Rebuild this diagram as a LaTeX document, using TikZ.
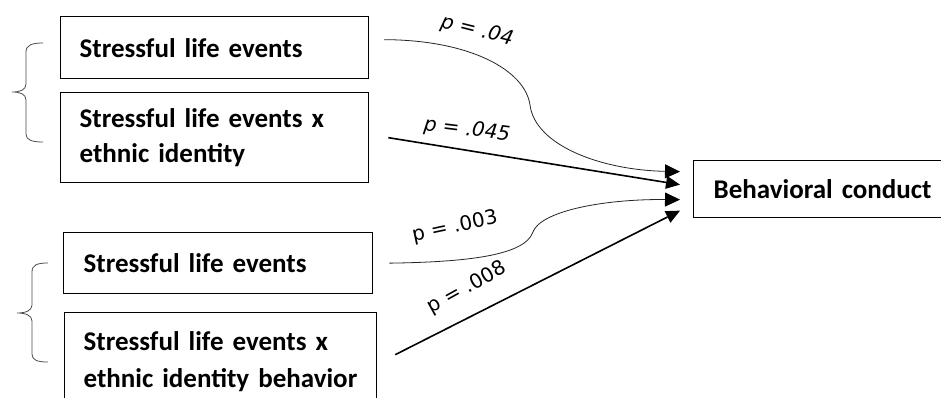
\documentclass[tikz,border=0pt]{standalone}
\usepackage{fontspec}
\setmainfont{Carlito}
\newfontfamily\plabelfont{DejaVu Sans}
\usetikzlibrary{arrows.meta,calc}
\begin{document}
\begin{tikzpicture}[x=1pt,y=-1pt,
  box/.style={draw=black,line width=1.3pt,rectangle,anchor=north west,
    inner xsep=19pt,inner ysep=0pt,align=left,
    font=\fontsize{27}{35}\selectfont\bfseries},
  thinarrow/.style={draw=black!85,line width=0.8pt,-{Triangle[length=15pt,width=14pt,color=black,fill=black]}},
  thickarrow/.style={draw=black,line width=1.6pt,-{Triangle[length=14pt,width=13pt,line width=0pt,fill=black]}},
  plab/.style={font=\plabelfont\fontsize{20}{24}\selectfont,inner sep=0pt},
  bracestyle/.style={draw=black!70,line width=0.8pt}]
\useasboundingbox (0,0) rectangle (941,398);
\clip (0,0) rectangle (941,398);
\fill[white] (0,0) rectangle (941,398);
% boxes
\node[box,text width=270pt,minimum height=62pt] (b1) at (60,16) {\mbox{Stressful life events}};
\node[box,text width=270pt,minimum height=90pt] (b2) at (60,92) {\mbox{Stressful life events x}\\\mbox{ethnic identity}};
\node[box,inner xsep=20pt,text width=269pt,minimum height=61pt] (b3) at (63,232) {\mbox{Stressful life events}};
\node[box,inner xsep=19pt,text width=274pt,minimum height=98pt,font=\fontsize{27}{37}\selectfont\bfseries] (b4) at (64,312) {\mbox{Stressful life events x}\\\mbox{ethnic identity behavior}};
\node[box,inner xsep=20pt,text width=240pt,minimum height=57pt] (bc) at (693,160) {\mbox{Behavioral conduct}};
% connector ends
\coordinate (s1) at ($(b1.east)+(15,-8)$);
\coordinate (s2) at ($(b2.east)+(19,0)$);
\coordinate (s3) at ($(b3.east)+(16,0)$);
\coordinate (s4) at ($(b4.east)+(18,-7)$);
\coordinate (t1) at ($(bc.west)+(-13,-17.5)$);
\coordinate (t2) at ($(bc.west)+(-13,-4.5)$);
\coordinate (t3) at ($(bc.west)+(-13,10.5)$);
\coordinate (t4) at ($(bc.west)+(-13,21.5)$);
% connectors
\draw[thinarrow] (s1) .. controls (470,40) and (525,70) .. (530,105) .. controls (535,145) and (600,170) .. (t1);
\draw[thickarrow] (s2) -- (t2);
\draw[thinarrow] (s3) .. controls (470,262) and (525,255) .. (533,232) .. controls (540,212) and (600,199) .. (t3);
\draw[thickarrow] (s4) -- (t4);
% labels
\node[plab,rotate=-14] (l1) at (477,31) {\itshape p = .04};
\node[plab,rotate=-7] (l2) at (467,130) {\itshape p = .045};
\node[plab,rotate=12] (l3) at (455,227) {p = .003};
\node[plab,rotate=29] (l4) at (467,288) {p = .008};
% braces
\draw[bracestyle] (43,43) .. controls (32,43) and (26,45) .. (26,52) -- (26,84) .. controls (26,90) and (20,92) .. (12,92) .. controls (20,92) and (26,94) .. (26,100) -- (26,134) .. controls (26,140) and (32,142) .. (43,142);
\draw[bracestyle] (48,263) .. controls (37,263) and (32,265) .. (32,272) -- (32,305) .. controls (32,311) and (25,313) .. (17,313) .. controls (25,313) and (32,315) .. (32,321) -- (32,354) .. controls (32,360) and (37,362) .. (48,362);
\end{tikzpicture}
\end{document}
